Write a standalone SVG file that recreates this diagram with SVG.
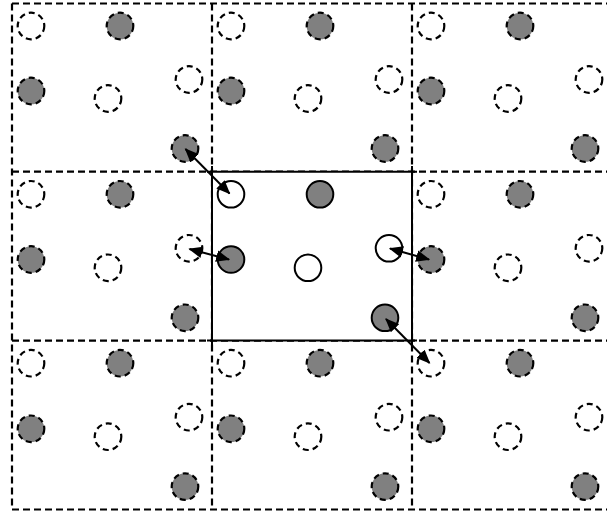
<svg xmlns="http://www.w3.org/2000/svg" width="607" height="514" viewBox="0 0 607 514">
<defs>
<style>
.grid{stroke:#000;stroke-width:2.2;stroke-dasharray:7,4;fill:none}
.frame{stroke:#000;stroke-width:2;fill:none}
.dg{fill:#808080;stroke:#000;stroke-width:2.2;stroke-dasharray:6,4}
.de{fill:#fff;stroke:#000;stroke-width:2.2;stroke-dasharray:6,4}
.sg{fill:#808080;stroke:#000;stroke-width:2}
.se{fill:#fff;stroke:#000;stroke-width:2}
.arr{stroke:#000;stroke-width:2;fill:none;marker-start:url(#ah);marker-end:url(#ah)}
</style>
<marker id="ah" viewBox="0 0 12 10" refX="11" refY="5" markerWidth="14" markerHeight="12" markerUnits="userSpaceOnUse" orient="auto-start-reverse">
<path d="M0,0 L12,5 L0,10 z" fill="#000"/>
</marker>
</defs>
<rect width="607" height="514" fill="#fff"/>
<g id="grid">
<line class="grid" x1="12" y1="3.5" x2="612" y2="3.5"/>
<line class="grid" x1="12" y1="171.7" x2="612" y2="171.7"/>
<line class="grid" x1="12" y1="340.6" x2="612" y2="340.6"/>
<line class="grid" x1="12" y1="509.5" x2="612" y2="509.5"/>
<line class="grid" x1="12" y1="3.5" x2="12" y2="509.5"/>
<line class="grid" x1="212" y1="3.5" x2="212" y2="509.5"/>
<line class="grid" x1="412" y1="3.5" x2="412" y2="509.5"/>
</g>
<g id="cell-0-0">
<circle class="de" cx="31" cy="26" r="13.3"/><circle class="dg" cx="120" cy="26" r="13.3"/><circle class="dg" cx="31" cy="91" r="13.3"/><circle class="de" cx="108" cy="98.5" r="13.3"/><circle class="de" cx="189" cy="79.5" r="13.3"/><circle class="dg" cx="185" cy="148.5" r="13.3"/>
</g>
<g id="cell-0-1">
<circle class="de" cx="231" cy="26" r="13.3"/><circle class="dg" cx="320" cy="26" r="13.3"/><circle class="dg" cx="231" cy="91" r="13.3"/><circle class="de" cx="308" cy="98.5" r="13.3"/><circle class="de" cx="389" cy="79.5" r="13.3"/><circle class="dg" cx="385" cy="148.5" r="13.3"/>
</g>
<g id="cell-0-2">
<circle class="de" cx="431" cy="26" r="13.3"/><circle class="dg" cx="520" cy="26" r="13.3"/><circle class="dg" cx="431" cy="91" r="13.3"/><circle class="de" cx="508" cy="98.5" r="13.3"/><circle class="de" cx="589" cy="79.5" r="13.3"/><circle class="dg" cx="585" cy="148.5" r="13.3"/>
</g>
<g id="cell-1-0">
<circle class="de" cx="31" cy="194.3" r="13.3"/><circle class="dg" cx="120" cy="194.3" r="13.3"/><circle class="dg" cx="31" cy="259.5" r="13.3"/><circle class="de" cx="108" cy="267.8" r="13.3"/><circle class="de" cx="189" cy="248.3" r="13.3"/><circle class="dg" cx="185" cy="317.8" r="13.3"/>
</g>
<g id="cell-1-1">
<rect x="212" y="171.7" width="200" height="168.9" fill="#fff"/>
<polyline class="frame" points="212,166 212,345"/>
<polyline class="frame" points="412,166 412,345"/>
<polyline class="frame" points="207,171.7 417,171.7"/>
<polyline class="frame" points="207,340.6 417,340.6"/>
<circle class="se" cx="231" cy="194.3" r="13.3"/><circle class="sg" cx="320" cy="194.3" r="13.3"/><circle class="sg" cx="231" cy="259.5" r="13.3"/><circle class="se" cx="308" cy="267.8" r="13.3"/><circle class="se" cx="389" cy="248.3" r="13.3"/><circle class="sg" cx="385" cy="317.8" r="13.3"/>
</g>
<g id="cell-1-2">
<circle class="de" cx="431" cy="194.3" r="13.3"/><circle class="dg" cx="520" cy="194.3" r="13.3"/><circle class="dg" cx="431" cy="259.5" r="13.3"/><circle class="de" cx="508" cy="267.8" r="13.3"/><circle class="de" cx="589" cy="248.3" r="13.3"/><circle class="dg" cx="585" cy="317.8" r="13.3"/>
</g>
<g id="cell-2-0">
<circle class="de" cx="31" cy="363.2" r="13.3"/><circle class="dg" cx="120" cy="363.2" r="13.3"/><circle class="dg" cx="31" cy="428.8" r="13.3"/><circle class="de" cx="108" cy="436.7" r="13.3"/><circle class="de" cx="189" cy="417.2" r="13.3"/><circle class="dg" cx="185" cy="486.6" r="13.3"/>
</g>
<g id="cell-2-1">
<circle class="de" cx="231" cy="363.2" r="13.3"/><circle class="dg" cx="320" cy="363.2" r="13.3"/><circle class="dg" cx="231" cy="428.8" r="13.3"/><circle class="de" cx="308" cy="436.7" r="13.3"/><circle class="de" cx="389" cy="417.2" r="13.3"/><circle class="dg" cx="385" cy="486.6" r="13.3"/>
</g>
<g id="cell-2-2">
<circle class="de" cx="431" cy="363.2" r="13.3"/><circle class="dg" cx="520" cy="363.2" r="13.3"/><circle class="dg" cx="431" cy="428.8" r="13.3"/><circle class="de" cx="508" cy="436.7" r="13.3"/><circle class="de" cx="589" cy="417.2" r="13.3"/><circle class="dg" cx="585" cy="486.6" r="13.3"/>
</g>
<g id="connectors">
<line class="arr" x1="185.5" y1="149" x2="229.5" y2="193.5"/>
<line class="arr" x1="189.5" y1="249" x2="229" y2="259.5"/>
<line class="arr" x1="390" y1="248.5" x2="429" y2="259.5"/>
<line class="arr" x1="386" y1="319" x2="429.5" y2="363"/>
</g>
</svg>
